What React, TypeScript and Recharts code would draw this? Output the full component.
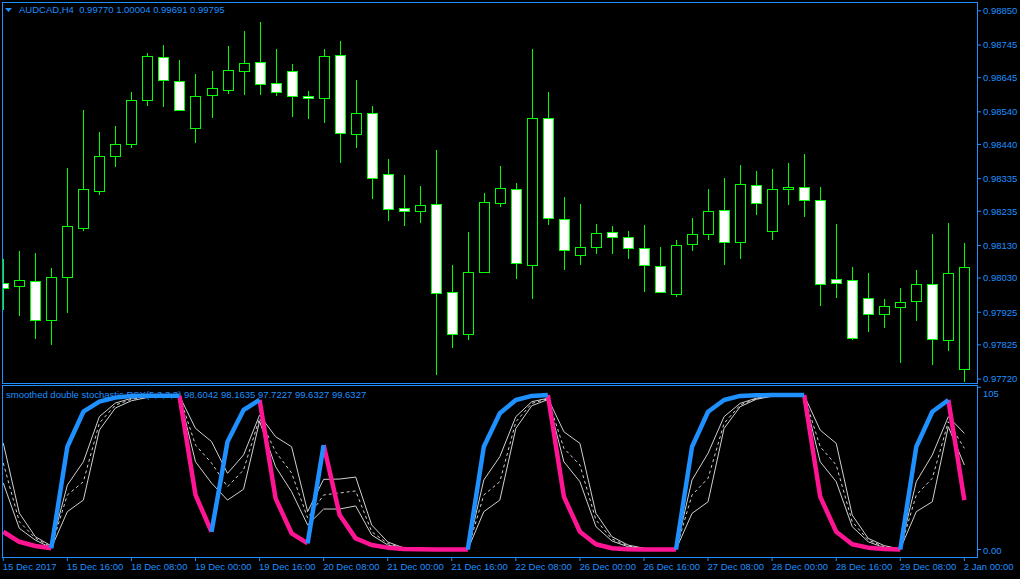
import React from 'react'
import { ComposedChart, Bar, Line, XAxis, YAxis } from 'recharts'

// H4 AUDCAD candles, 15 Dec 2017 -> 2 Jan 2018
const opens = [
  0.98014, 0.98007, 0.9802, 0.979, 0.98034, 0.98184, 0.98298, 0.98405, 0.98442, 0.98577,
  0.98707, 0.98636, 0.98491, 0.98592, 0.98608, 0.98666, 0.98692, 0.98627, 0.98664, 0.9859,
  0.98583, 0.98713, 0.98471, 0.98535, 0.98348, 0.98244, 0.98235, 0.98256, 0.97986, 0.97857,
  0.9805, 0.98259, 0.98302, 0.98069, 0.9852, 0.9821, 0.981, 0.98124, 0.9817, 0.98155,
  0.98121, 0.98066, 0.9798, 0.98133, 0.98166, 0.98238, 0.98141, 0.98317, 0.98175, 0.98302,
  0.98308, 0.98271, 0.98026, 0.98023, 0.97968, 0.97919, 0.9794, 0.97961, 0.98011, 0.97839,
  0.9775,
]
const highs = [
  0.98088, 0.98113, 0.98107, 0.98061, 0.98367, 0.98545, 0.98478, 0.98496, 0.98601, 0.9872,
  0.98745, 0.98699, 0.98656, 0.98665, 0.98742, 0.98788, 0.98815, 0.98732, 0.98686, 0.98604,
  0.98732, 0.98757, 0.98637, 0.98558, 0.98395, 0.98346, 0.98312, 0.98423, 0.9807, 0.98171,
  0.98291, 0.98374, 0.98321, 0.98732, 0.98601, 0.98278, 0.98257, 0.98196, 0.98189, 0.98174,
  0.98193, 0.98125, 0.98146, 0.98214, 0.98303, 0.98337, 0.98377, 0.98358, 0.98364, 0.98383,
  0.9841, 0.98309, 0.98196, 0.98064, 0.98045, 0.97965, 0.97999, 0.98054, 0.98165, 0.98199,
  0.98137,
]
const lows = [
  0.97932, 0.97914, 0.97843, 0.97825, 0.97923, 0.98175, 0.98285, 0.98371, 0.9843, 0.98558,
  0.98555, 0.98543, 0.98444, 0.98521, 0.98595, 0.98591, 0.98591, 0.98588, 0.98524, 0.98518,
  0.98506, 0.98384, 0.9843, 0.98273, 0.98206, 0.9819, 0.982, 0.97733, 0.97816, 0.97841,
  0.98048, 0.98249, 0.98028, 0.97966, 0.98193, 0.98055, 0.98071, 0.98104, 0.98104, 0.98089,
  0.97988, 0.97984, 0.97973, 0.98114, 0.98147, 0.98071, 0.98089, 0.98224, 0.98147, 0.98255,
  0.98218, 0.97945, 0.97969, 0.97841, 0.97865, 0.97877, 0.9777, 0.97899, 0.97764, 0.97807,
  0.97711,
]
const closes = [
  0.98001, 0.98023, 0.979, 0.98032, 0.98189, 0.98302, 0.98406, 0.9844, 0.98575, 0.9871,
  0.98638, 0.98546, 0.9859, 0.98612, 0.98667, 0.98689, 0.98626, 0.986, 0.98589, 0.98581,
  0.9871, 0.98474, 0.98535, 0.98336, 0.98241, 0.98235, 0.98253, 0.97983, 0.97857, 0.9805,
  0.98262, 0.98305, 0.98075, 0.9852, 0.98213, 0.98115, 0.98124, 0.98167, 0.98155, 0.98121,
  0.98069, 0.97986, 0.9813, 0.98164, 0.98235, 0.98141, 0.9832, 0.98261, 0.98302, 0.98308,
  0.98271, 0.98011, 0.98014, 0.97847, 0.97919, 0.97943, 0.97958, 0.98011, 0.97842, 0.98044,
  0.98063,
]

// smoothed double stochastic: main line + three signal lines
const mainLine = [
  11.5, 5.0, 2.3, 0.8, 66.5, 89.2, 95.7, 98.3, 99.4, 99.5,
  99.5, 99.5, 35.3, 11.5, 69.8, 90.3, 96.8, 33.1, 10.5, 4.0,
  67.6, 22.3, 7.2, 2.9, 1.2, 0.3, 0.1, 0, 0, 0,
  66.5, 88.2, 96.8, 99.4, 100, 34.2, 11.5, 3.4, 0.8, 0.1,
  0, 0, 0, 66.5, 89.2, 96.8, 99.4, 99.8, 100, 100,
  100, 34.2, 11.5, 3.4, 1.2, 0.3, 0, 66.5, 89.2, 96.8,
  32.0,
]
const sigUpper = [
  68.9, 23.6, 8.3, 2.3, 41.7, 56.8, 86.0, 94.8, 97.9, 98.9,
  99.3, 99.4, 78.4, 69.9, 49.3, 61.2, 87.0, 73.0, 66.5, 24.5,
  45.4, 45.6, 46.9, 15.9, 4.9, 1.0, 0.3, 0.1, 0, 0,
  45.0, 60.1, 86.0, 95.7, 97.9, 76.2, 68.7, 23.4, 8.3, 2.9,
  0.8, 0.2, 0.1, 45.0, 62.3, 86.0, 94.6, 97.9, 99.6, 99.7,
  99.8, 77.3, 68.7, 22.3, 7.2, 2.5, 0.3, 43.9, 61.2, 86.0,
  75.2,
]
const sigMiddle = [
  56.0, 18.0, 7.4, 1.6, 35.3, 43.9, 81.9, 93.5, 97.2, 98.7,
  99.2, 99.3, 67.6, 56.0, 40.6, 51.5, 85.0, 63.3, 49.5, 20.4,
  35.3, 36.6, 37.9, 11.5, 3.9, 0.8, 0.2, 0.1, 0, 0,
  35.3, 43.9, 82.7, 94.6, 97.5, 65.5, 54.7, 19.1, 6.8, 2.3,
  0.6, 0.2, 0.1, 35.3, 46.1, 81.7, 93.5, 97.6, 99.4, 99.6,
  99.7, 66.5, 54.7, 18.0, 6.1, 1.8, 0.3, 35.3, 46.1, 82.7,
  65.5,
]
const sigLower = [
  43.0, 13.7, 6.1, 1.0, 24.5, 32.0, 77.3, 91.6, 96.3, 98.4,
  99.0, 99.2, 56.8, 43.0, 32.0, 39.0, 83.0, 53.6, 37.4, 15.9,
  26.2, 26.2, 28.2, 9.4, 2.9, 0.6, 0.2, 0.1, 0, 0,
  24.5, 32.0, 78.4, 93.1, 97.0, 56.8, 43.9, 14.8, 5.5, 1.8,
  0.5, 0.2, 0.1, 23.4, 30.9, 78.4, 92.4, 97.2, 99.2, 99.5,
  99.6, 56.8, 43.9, 14.8, 5.0, 1.2, 0.3, 24.5, 30.9, 79.5,
  54.7,
]

const priceTicks = [0.9772, 0.97825, 0.97925, 0.9803, 0.9813, 0.98235, 0.98335, 0.9844, 0.9854, 0.98645, 0.98745, 0.9885]
const timeTicks = [0, 4, 8, 12, 16, 20, 24, 28, 32, 36, 40, 44, 48, 52, 56, 60]
const timeLabels = [
  '15 Dec 2017', '15 Dec 16:00', '18 Dec 08:00', '19 Dec 00:00', '19 Dec 16:00', '20 Dec 08:00',
  '21 Dec 00:00', '21 Dec 16:00', '22 Dec 08:00', '26 Dec 00:00', '26 Dec 16:00', '27 Dec 08:00',
  '28 Dec 00:00', '28 Dec 16:00', '29 Dec 08:00', '2 Jan 00:00',
]

const BLUE = '#1e90ff'
const PINK = '#ff1493'
const GREEN = '#00ff00'
const SILVER = '#d0d0d0'
const FONT = '"Liberation Sans", Arial, sans-serif'
const X_DOMAIN: [number, number] = [-0.08, 60.79]

const candles = opens.map((open, i) => ({
  i,
  open,
  high: highs[i],
  low: lows[i],
  close: closes[i],
  range: [lows[i], highs[i]],
}))

// split main line into rising (blue) and falling (pink) runs
const buildIndicator = () => {
  const rows: any[] = mainLine.map((v, i) => ({ i, upper: sigUpper[i], middle: sigMiddle[i], lower: sigLower[i] }))
  const dirs: string[] = []
  for (let i = 0; i < mainLine.length - 1; i++) {
    const d = mainLine[i + 1] - mainLine[i]
    dirs.push(d > 0 ? 'up' : d < 0 ? 'dn' : dirs[i - 1] || 'dn')
  }
  const count: Record<string, number> = { up: 0, dn: 0 }
  let s = 0
  while (s < dirs.length) {
    let e = s
    while (e + 1 < dirs.length && dirs[e + 1] === dirs[s]) e++
    const key = dirs[s] + (count[dirs[s]]++ % 2)
    for (let p = s; p <= e + 1; p++) rows[p][key] = mainLine[p]
    s = e + 1
  }
  return rows
}
const indicator = buildIndicator()

const Candle = (props: any) => {
  const { x, y, width, height, payload } = props
  if (x == null || y == null) return null
  const cx = Math.round(x + width / 2) + 0.5
  const yHigh = Math.min(y, y + height)
  const yLow = Math.max(y, y + height)
  const span = payload.high - payload.low || 1
  const py = (v: number) => yHigh + ((payload.high - v) / span) * (yLow - yHigh)
  const top = Math.round(py(Math.max(payload.open, payload.close))) + 0.5
  const bot = Math.round(py(Math.min(payload.open, payload.close))) + 0.5
  const bull = payload.close > payload.open
  return (
    <g>
      <line x1={cx} x2={cx} y1={Math.round(yHigh)} y2={Math.round(yLow)} stroke={GREEN} strokeWidth={1} />
      <rect x={cx - 5} y={top} width={10} height={Math.max(bot - top, 1)} fill={bull ? '#000' : '#fff'} stroke={GREEN} strokeWidth={1} />
    </g>
  )
}

const PriceTick = (props: any) => {
  const { x, y, payload } = props
  return (
    <text x={x} y={y} dy="0.35em" fill={BLUE} fontSize={9.5} fontFamily={FONT} textAnchor="start">
      {payload.value.toFixed(5)}
    </text>
  )
}

const IndTick = (props: any) => {
  const { x, y, payload } = props
  const top = payload.value > 50
  return (
    <text x={x} y={top ? y + 6 : y + 1} dy="0.35em" fill={BLUE} fontSize={9.5} fontFamily={FONT} textAnchor="start">
      {top ? '105' : '0.00'}
    </text>
  )
}

const TimeTick = (props: any) => {
  const { x, y, payload } = props
  return (
    <text x={x - 0.5} y={y} dy="0.71em" fill={BLUE} fontSize={9.5} fontFamily={FONT} textAnchor="start">
      {timeLabels[timeTicks.indexOf(payload.value)]}
    </text>
  )
}

const frame = (left: number, top: number, w: number, h: number): React.CSSProperties => ({
  position: 'absolute', left, top, width: w, height: h, border: `1px solid ${BLUE}`, boxSizing: 'border-box', pointerEvents: 'none',
})

export default function App() {
  return (
    <div style={{ position: 'absolute', left: 0, top: 0, width: 1020, height: 579, background: '#000', overflow: 'hidden', fontFamily: FONT }}>
      <div style={{ position: 'absolute', left: 5, top: 3, color: BLUE, fontSize: 9.5, lineHeight: '14px', whiteSpace: 'pre' }}>
        <svg width={8} height={8} style={{ marginRight: 6, verticalAlign: 'middle' }}>
          <polygon points="0,2 7,2 3.5,6" fill={BLUE} />
        </svg>
        {'AUDCAD,H4  0.99770 1.00004 0.99691 0.99795'}
      </div>
      <div style={{ position: 'absolute', left: 6, top: 388, color: BLUE, fontSize: 9.5, lineHeight: '14px', whiteSpace: 'pre' }}>
        smoothed double stochastic RSX(5,3,3,3) 98.6042 98.1635 97.7227 99.6327 99.6327
      </div>

      <div style={{ position: 'absolute', left: 0, top: 0 }}>
        <ComposedChart width={1020} height={386} data={candles} margin={{ top: 3, right: 0, bottom: 3, left: 2 }}>
          <XAxis dataKey="i" type="number" domain={X_DOMAIN} allowDataOverflow hide />
          <YAxis
            orientation="right"
            width={43}
            domain={[0.97708, 0.98874]}
            allowDataOverflow
            ticks={priceTicks}
            interval={0}
            axisLine={false}
            tickLine={{ stroke: BLUE }}
            tickSize={4}
            tickMargin={2}
            tick={<PriceTick />}
          />
          <Bar dataKey="range" barSize={10} shape={<Candle />} isAnimationActive={false} />
        </ComposedChart>
      </div>

      <div style={{ position: 'absolute', left: 0, top: 386 }}>
        <ComposedChart width={1020} height={193} data={indicator} margin={{ top: 0, right: 0, bottom: 0, left: 2 }}>
          <XAxis
            dataKey="i"
            type="number"
            domain={X_DOMAIN}
            allowDataOverflow
            ticks={timeTicks}
            interval={0}
            height={22}
            axisLine={false}
            tickLine={{ stroke: BLUE }}
            tickSize={4}
            tickMargin={2}
            tick={<TimeTick />}
          />
          <YAxis
            orientation="right"
            width={43}
            domain={[-4.85, 105.83]}
            allowDataOverflow
            ticks={[0, 105]}
            interval={0}
            axisLine={false}
            tickLine={{ stroke: BLUE }}
            tickSize={4}
            tickMargin={2}
            tick={<IndTick />}
          />
          <Line dataKey="upper" stroke={SILVER} strokeWidth={1} dot={false} isAnimationActive={false} />
          <Line dataKey="middle" stroke={SILVER} strokeWidth={1} strokeDasharray="3 3" dot={false} isAnimationActive={false} />
          <Line dataKey="lower" stroke={SILVER} strokeWidth={1} dot={false} isAnimationActive={false} />
          <Line dataKey="dn0" stroke={PINK} strokeWidth={4.5} strokeLinejoin="round" dot={false} connectNulls={false} isAnimationActive={false} />
          <Line dataKey="dn1" stroke={PINK} strokeWidth={4.5} strokeLinejoin="round" dot={false} connectNulls={false} isAnimationActive={false} />
          <Line dataKey="up0" stroke={BLUE} strokeWidth={4.5} strokeLinejoin="round" dot={false} connectNulls={false} isAnimationActive={false} />
          <Line dataKey="up1" stroke={BLUE} strokeWidth={4.5} strokeLinejoin="round" dot={false} connectNulls={false} isAnimationActive={false} />
        </ComposedChart>
      </div>

      <div style={frame(2, 2, 976, 382)} />
      <div style={frame(2, 385, 976, 173)} />
    </div>
  )
}
